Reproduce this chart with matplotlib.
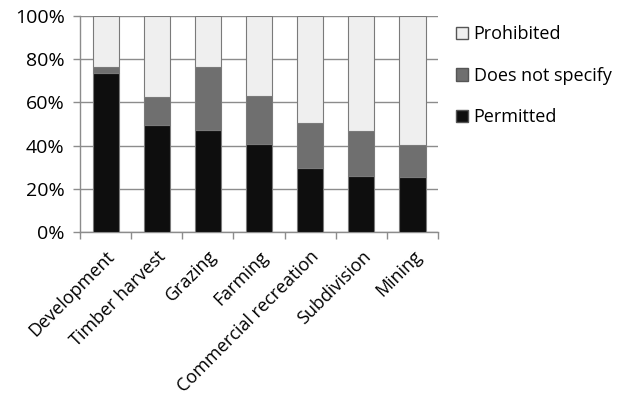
import numpy as np
import matplotlib.pyplot as plt
from matplotlib.patches import Patch

categories = ['Development', 'Timber harvest', 'Grazing', 'Farming',
              'Commercial recreation', 'Subdivision', 'Mining']
permitted = [73.7, 49.7, 47.2, 40.7, 29.8, 26.1, 25.6]
not_specified = [2.5, 12.9, 29.2, 22.3, 20.8, 20.8, 14.8]
prohibited = [100 - p - d for p, d in zip(permitted, not_specified)]

plt.rcParams['font.family'] = ['Open Sans', 'DejaVu Sans']

fig = plt.figure(figsize=(6.25, 4), dpi=100)
ax = fig.add_axes([0.128, 0.42, 0.573, 0.54])

x = np.arange(len(categories))
w = 0.51
edge = '#7a7a7a'
ax.bar(x, permitted, w, color='#0e0e0e', edgecolor=edge, linewidth=0.8, zorder=3)
ax.bar(x, not_specified, w, bottom=permitted, color='#6f6f6f',
       edgecolor=edge, linewidth=0.8, zorder=3)
bottom2 = [p + d for p, d in zip(permitted, not_specified)]
ax.bar(x, prohibited, w, bottom=bottom2, color='#efefef',
       edgecolor=edge, linewidth=0.8, zorder=3)

ax.set_xlim(-0.5, len(categories) - 0.5)
ax.set_ylim(0, 100)
ax.set_yticks(np.arange(0, 101, 20))
ax.set_yticklabels([f'{v}%' for v in range(0, 101, 20)], fontsize=14)
ax.yaxis.grid(True, color='#8c8c8c', linewidth=1, zorder=0)

ax.set_xticks(x)
ax.set_xticklabels(categories, rotation=45, ha='right', va='top',
                   rotation_mode='anchor', fontsize=13)
ax.tick_params(axis='x', which='major', length=0, pad=11)
ax.set_xticks(np.arange(-0.5, len(categories), 1), minor=True)
ax.tick_params(axis='x', which='minor', length=5, color='#8c8c8c', width=1)
ax.tick_params(axis='y', length=5, color='#8c8c8c', width=1, pad=6)

for s in ['top', 'right']:
    ax.spines[s].set_visible(False)
for s in ['left', 'bottom']:
    ax.spines[s].set_color('#8c8c8c')
    ax.spines[s].set_linewidth(1)

handles = [Patch(facecolor='#efefef', edgecolor='#555555', label='Prohibited'),
           Patch(facecolor='#6f6f6f', edgecolor='#555555', label='Does not specify'),
           Patch(facecolor='#0e0e0e', edgecolor='#555555', label='Permitted')]
fig.legend(handles=handles, loc='upper left', bbox_to_anchor=(0.703, 0.977),
           frameon=False, fontsize=13, handlelength=0.7, handleheight=0.7,
           handletextpad=0.3, labelspacing=1.3)

fig.savefig('out.png', dpi=100)
